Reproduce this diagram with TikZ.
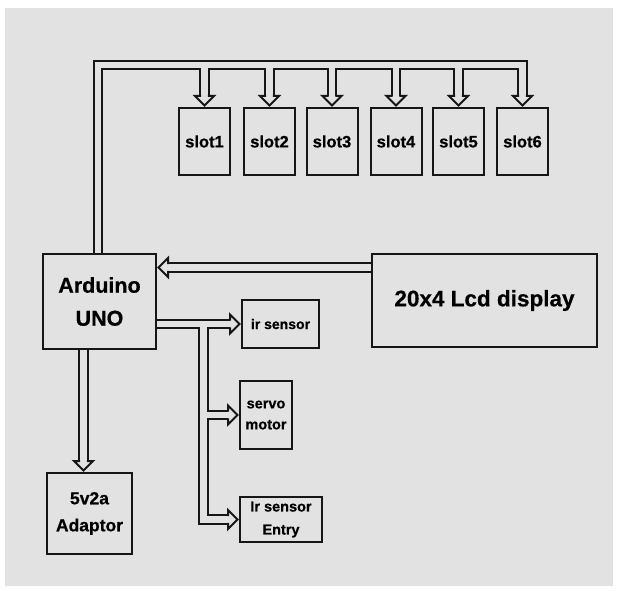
\documentclass[tikz,border=0pt]{standalone}
\usepackage{fontspec}
\setmainfont{Liberation Sans}[BoldFeatures={FakeBold=0.6}]
\usetikzlibrary{calc}
\definecolor{bg}{RGB}{226,226,226}
\definecolor{ink}{RGB}{22,22,22}
\newcommand\fs[2]{\fontsize{#1}{#2}\selectfont\bfseries}
\newcommand\dbl[1]{\draw[dblo] #1; \draw[dbli] #1;}
\pgfdeclarelayer{back}
\pgfdeclarelayer{conn}
\pgfsetlayers{back,conn,main}
\tikzset{
  box/.style={draw=ink, fill=bg, line width=2pt, inner sep=0pt, align=center},
  slotbox/.style={box, minimum width=51pt, minimum height=67pt, font=\fs{16.5}{20}},
  dblo/.style={draw=ink, line width=10.7pt, line join=miter},
  dbli/.style={draw=bg, line width=6.7pt, line join=miter},
  ahead/.pic={
    \fill[bg] (-9.5,-9.5) -- (0,0) -- (-9.5,9.5) -- cycle;
    \draw[ink, line width=2pt, line join=miter]
      (-9.5,3.35) -- (-9.5,9.5) -- (0,0) -- (-9.5,-9.5) -- (-9.5,-3.35);
  }
}
\begin{document}
\begin{tikzpicture}[x=1pt, y=1pt]
\useasboundingbox (0,0) rectangle (618,590);
\begin{pgfonlayer}{back}
  \fill[white] (0,0) rectangle (618,590);
  \fill[bg] (5,4) rectangle (613,582);
\end{pgfonlayer}

% nodes
\node[slotbox] (s1) at (204.5,448.5) {slot1};
\node[slotbox] (s2) at (269.5,448.5) {slot2};
\node[slotbox] (s3) at (332,448.5) {slot3};
\node[slotbox] (s4) at (396,448.5) {slot4};
\node[slotbox] (s5) at (458.5,448.5) {slot5};
\node[slotbox] (s6) at (522.5,448.5) {slot6};
\node[box, minimum width=113pt, minimum height=95pt, font=\fs{21.5}{33}] (ard) at (99.5,288.5) {Arduino\\UNO};
\node[box, minimum width=225pt, minimum height=93pt, font=\fs{22.5}{27}] (lcd) at (484.5,289.5) {20x4 Lcd display};
\node[box, minimum width=77pt, minimum height=48pt, font=\fs{14}{17}] (irs) at (280.5,266) {ir sensor};
\node[box, minimum width=52pt, minimum height=68pt, font=\fs{14.5}{21}] (servo) at (266,175) {servo\\motor};
\node[box, minimum width=82pt, minimum height=45pt, font=\fs{14.5}{23}] (entry) at (281,70.5) {Ir sensor\\Entry};
\node[box, minimum width=85pt, minimum height=81pt, font=\fs{17.5}{27}] (ada) at (89.5,76.5) {5v2a\\Adaptor};

% helper coordinates
\coordinate (busY) at (0,525);
\coordinate (lcdY) at (0,322.5);
\coordinate (bx) at (203.5,0);
\coordinate (ax) at (83.5,0);

\begin{pgfonlayer}{conn}
  % top bus to slots
  \dbl{($(ard.north)+(-1.5,0)$) -- ($(ard.north |- busY)+(-1.5,0)$) -- (s6.north |- busY) -- ($(s6.north)+(0,11)$)
       (s1.north |- busY) -- ($(s1.north)+(0,11)$)
       (s2.north |- busY) -- ($(s2.north)+(0,11)$)
       (s3.north |- busY) -- ($(s3.north)+(0,11)$)
       (s4.north |- busY) -- ($(s4.north)+(0,11)$)
       (s5.north |- busY) -- ($(s5.north)+(0,11)$)}
  \foreach \s in {s1,s2,s3,s4,s5,s6}{
    \pic[rotate=-90] at ($(\s.north)+(0,1.5)$) {ahead};
  }
  % LCD to Arduino
  \dbl{(lcd.west |- lcdY) -- ($(ard.east |- lcdY)+(11,0)$)}
  \pic[rotate=180] at ($(ard.east |- lcdY)+(1.5,0)$) {ahead};
  % Arduino to sensors and servo
  \dbl{(ard.east |- irs.west) -- ($(irs.west)+(-11,0)$)
       (bx |- irs.west) -- (bx |- entry.west) -- ($(entry.west)+(-11,0)$)
       (bx |- servo.west) -- ($(servo.west)+(-11,0)$)}
  \pic at ($(irs.west)+(-1.5,0)$) {ahead};
  \pic at ($(servo.west)+(-1.5,0)$) {ahead};
  \pic at ($(entry.west)+(-1.5,0)$) {ahead};
  % Arduino to adaptor
  \dbl{(ax |- ard.south) -- ($(ax |- ada.north)+(0,11)$)}
  \pic[rotate=-90] at ($(ax |- ada.north)+(0,1.5)$) {ahead};
\end{pgfonlayer}
\end{tikzpicture}
\end{document}
